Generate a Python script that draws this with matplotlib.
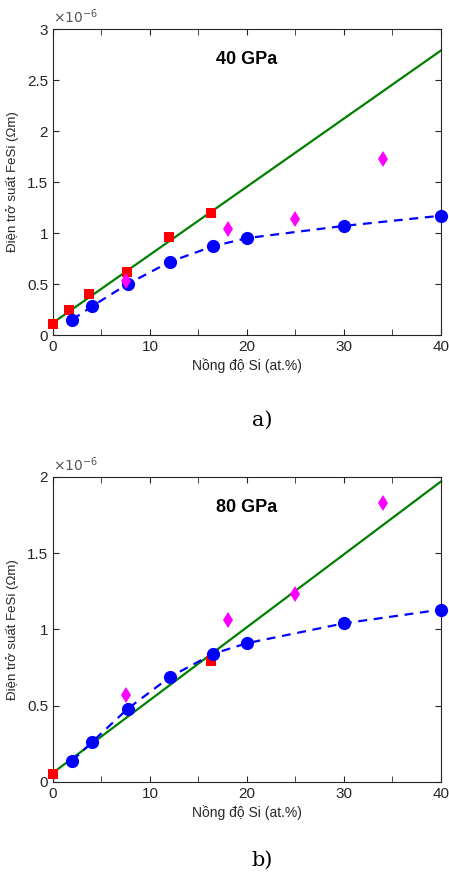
import numpy as np
import matplotlib.pyplot as plt
from matplotlib.ticker import MultipleLocator, FuncFormatter

# 40 GPa data (resistivity in units of 1e-6 Ohm m)
x_red_40 = [0, 1.7, 3.7, 7.6, 12, 16.3]
y_red_40 = [0.11, 0.25, 0.40, 0.62, 0.96, 1.20]
x_fit_40 = [0, 40]
y_fit_40 = [0.12, 2.79]
x_blue_40 = [2, 4, 7.7, 12.1, 16.5, 20, 30, 40]
y_blue_40 = [0.15, 0.28, 0.50, 0.72, 0.87, 0.95, 1.07, 1.17]
x_mag_40 = [7.5, 18, 25, 34]
y_mag_40 = [0.53, 1.04, 1.14, 1.73]

# 80 GPa data
x_red_80 = [0, 16.3]
y_red_80 = [0.055, 0.79]
x_fit_80 = [0, 40]
y_fit_80 = [0.06, 1.97]
x_blue_80 = [2, 4, 7.7, 12.1, 16.5, 20, 30, 40]
y_blue_80 = [0.14, 0.26, 0.48, 0.69, 0.84, 0.91, 1.04, 1.13]
x_mag_80 = [7.5, 18, 25, 34]
y_mag_80 = [0.57, 1.06, 1.23, 1.83]

plt.rcParams['font.family'] = ['Liberation Sans', 'DejaVu Sans']
grey = '#262626'

fig = plt.figure(figsize=(4.49, 8.74), dpi=100)
ax1 = fig.add_axes([0.118, 0.6167, 0.864, 0.350])
ax2 = fig.add_axes([0.118, 0.1053, 0.864, 0.349])


def draw(ax, xr, yr, xf, yf, xb, yb, xm, ym, title, ymax):
    ax.plot(xf, yf, color='#008000', lw=1.6, zorder=2, clip_on=False)
    ax.plot(xb, yb, color='#0000ff', lw=1.6, ls=(0, (4, 3)), zorder=2)
    ax.plot(xr, yr, 's', color='#ff0000', ms=7, mew=0, zorder=3, clip_on=False)
    ax.plot(xb, yb, 'o', color='#0000ff', ms=9.5, mew=0, zorder=3, clip_on=False)
    ax.plot(xm, ym, 'd', color='#ff00ff', ms=8.5, mew=0, zorder=3, clip_on=False)
    ax.set_xlim(0, 40)
    ax.set_ylim(0, ymax)
    ax.xaxis.set_major_locator(MultipleLocator(10))
    ax.xaxis.set_minor_locator(MultipleLocator(5))
    ax.yaxis.set_major_locator(MultipleLocator(0.5))
    ax.yaxis.set_major_formatter(FuncFormatter(lambda v, p: '%g' % v))
    ax.tick_params(which='both', direction='in', top=True, right=True,
                   labelsize=11, colors=grey, length=4)
    for sp in ax.spines.values():
        sp.set_color(grey)
        sp.set_linewidth(0.8)
    ax.text(0.0, 1.01, r'$\times10^{-6}$', transform=ax.transAxes, ha='left',
            va='bottom', fontsize=10, color='#555555')
    ax.set_xlabel('Nồng độ Si (at.%)', fontsize=10, color=grey, labelpad=3)
    ax.set_ylabel('Điện trở suất FeSi (Ωm)', fontsize=9.5, color=grey, labelpad=6)
    ax.text(0.5, 0.90, title, transform=ax.transAxes, ha='center', va='center',
            fontsize=13, fontweight='bold', color='black')


draw(ax1, x_red_40, y_red_40, x_fit_40, y_fit_40, x_blue_40, y_blue_40,
     x_mag_40, y_mag_40, '40 GPa', 3)
draw(ax2, x_red_80, y_red_80, x_fit_80, y_fit_80, x_blue_80, y_blue_80,
     x_mag_80, y_mag_80, '80 GPa', 2)

fig.text(0.584, 1 - 420 / 874, 'a)', ha='center', va='center', fontsize=15,
         family='DejaVu Serif')
fig.text(0.584, 1 - 860 / 874, 'b)', ha='center', va='center', fontsize=15,
         family='DejaVu Serif')

fig.savefig('out.png', dpi=100)
plt.close('all')
